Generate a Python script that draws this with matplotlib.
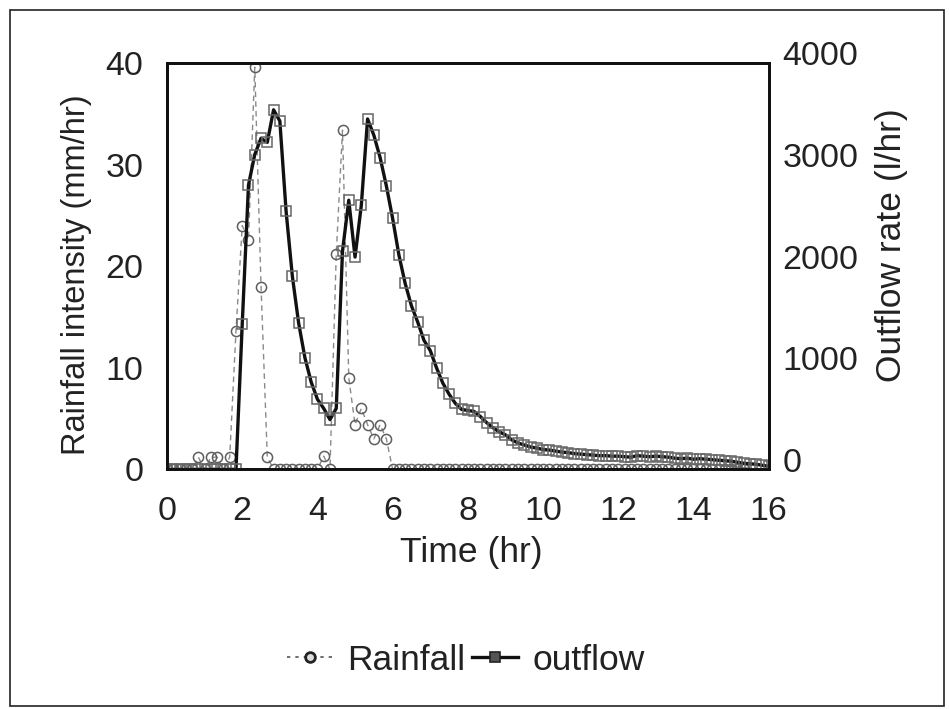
#Rainfall intensity and outflow rate hydrograph (10-minute steps).

import matplotlib.pyplot as plt
import matplotlib.transforms as mtransforms
import numpy as np
from matplotlib.lines import Line2D
from matplotlib.patches import Rectangle

plt.rcParams["font.family"] = ["Liberation Sans", "DejaVu Sans"]

STEP_HR = 10 / 60

# rainfall intensity (mm/hr), one value per 10 min from t = 0
rainfall = [
    0, 0, 0, 0, 0, 1.2, 0, 1.2, 1.2, 0, 1.2, 13.6,
    24.0, 22.6, 39.6, 18.0, 1.2, 0, 0, 0, 0, 0, 0, 0,
    0, 1.3, 0, 21.2, 33.4, 9.0, 4.4, 6.0, 4.4, 3.0, 4.4, 3.0,
    0, 0, 0, 0, 0, 0, 0, 0, 0, 0, 0, 0,
    0, 0, 0, 0, 0, 0, 0, 0, 0, 0, 0, 0,
    0, 0, 0, 0, 0, 0, 0, 0, 0, 0, 0, 0,
    0, 0, 0, 0, 0, 0, 0, 0, 0, 0, 0, 0,
    0, 0, 0, 0, 0, 0, 0, 0, 0,
]

# outflow rate (l/hr), same time steps
outflow = [
    0, 0, 0, 0, 0, 0, 0, 0, 0, 0, 0, 0,
    1430, 2800, 3100, 3260, 3220, 3540, 3430, 2540, 1900, 1440, 1100, 860,
    690, 600, 490, 600, 2150, 2650, 2090, 2600, 3450, 3290, 3070, 2790,
    2470, 2110, 1830, 1610, 1450, 1270, 1170, 1000, 850, 740, 650, 590,
    580, 570, 520, 460, 410, 370, 340, 290, 260, 240, 220, 210,
    195, 190, 180, 170, 165, 155, 150, 145, 140, 135, 135, 130,
    130, 125, 120, 135, 130, 125, 130, 125, 120, 110, 105, 110,
    100, 105, 100, 95, 90, 85, 80, 70, 60, 55, 50, 40, 30,
]

x_ticks = [0, 2, 4, 6, 8, 10, 12, 14, 16]
rain_ticks = [0, 10, 20, 30, 40]
flow_ticks = [0, 1000, 2000, 3000, 4000]

time_rain = np.arange(len(rainfall)) * STEP_HR
time_flow = np.arange(len(outflow)) * STEP_HR

text_color = "#222222"
tick_size = 24.5
label_size = 25.5

fig = plt.figure(figsize=(9.49, 7.09), dpi=100)
ax = fig.add_axes([0.176, 0.338, 0.634, 0.573])
ax2 = ax.twinx()

ax.plot(
    time_rain, rainfall, linestyle=(0, (4, 3)), color="#8a8a8a", linewidth=1.0,
    marker="o", markersize=7.3, markerfacecolor="none",
    markeredgecolor="#5e5e5e", markeredgewidth=1.1,
)
ax2.plot(
    time_flow, outflow, color="#111111", linewidth=2.4,
    marker="s", markersize=6.8, markerfacecolor="none",
    markeredgecolor="#666666", markeredgewidth=1.1,
)

ax.set_xlim(0, 16)
ax.set_ylim(0, 40)
ax2.set_ylim(0, 4000)
ax.set_xticks(x_ticks)
ax.set_yticks(rain_ticks)
ax2.set_yticks(flow_ticks)

ax.tick_params(axis="x", length=0, pad=19, labelsize=tick_size, colors=text_color)
ax.tick_params(axis="y", length=0, pad=17, labelsize=tick_size, colors=text_color)
ax2.tick_params(axis="y", length=0, pad=10, labelsize=tick_size, colors=text_color)

# right-hand labels sit a little higher than the left ones in the original
offset = mtransforms.ScaledTranslation(0, 7 / 72, fig.dpi_scale_trans)
for label in ax2.get_yticklabels():
    label.set_transform(label.get_transform() + offset)

for spine in list(ax.spines.values()) + list(ax2.spines.values()):
    spine.set_linewidth(2.0)
    spine.set_color("#111111")

ax.set_xlabel("Time (hr)", fontsize=label_size, color=text_color)
ax.set_ylabel("Rainfall intensity (mm/hr)", fontsize=23.5, color=text_color)
ax2.set_ylabel("Outflow rate (l/hr)", fontsize=label_size, color=text_color)
ax.xaxis.set_label_coords(0.505, -0.204)
ax.xaxis.label.set_verticalalignment("center")
ax.yaxis.set_label_coords(-0.150, 0.478)
ax.yaxis.label.set_verticalalignment("center")
ax2.yaxis.set_label_coords(1.204, 0.552)
ax2.yaxis.label.set_verticalalignment("center")

legend_handles = [
    Line2D([], [], linestyle=(0, (2, 3)), color="#555555", linewidth=1.2,
           marker="o", markersize=7, markerfacecolor="#dddddd",
           markeredgecolor="#222222", markeredgewidth=2.0),
    Line2D([], [], color="#111111", linewidth=2.4,
           marker="s", markersize=7, markerfacecolor="#555555",
           markeredgecolor="#222222", markeredgewidth=1.2),
]
fig.legend(
    handles=legend_handles, labels=["Rainfall", "outflow"], loc="center",
    bbox_to_anchor=(0.491, 0.069), ncol=2, frameon=False, fontsize=label_size,
    handlelength=1.3, handletextpad=0.4, columnspacing=0.2, labelcolor=text_color,
)

fig.patches.append(Rectangle(
    (10 / 949, 3 / 709), 934 / 949, 696 / 709, transform=fig.transFigure,
    fill=False, edgecolor="#222222", linewidth=1.2,
))

fig.savefig("out.png", dpi=100)
plt.close(fig)
